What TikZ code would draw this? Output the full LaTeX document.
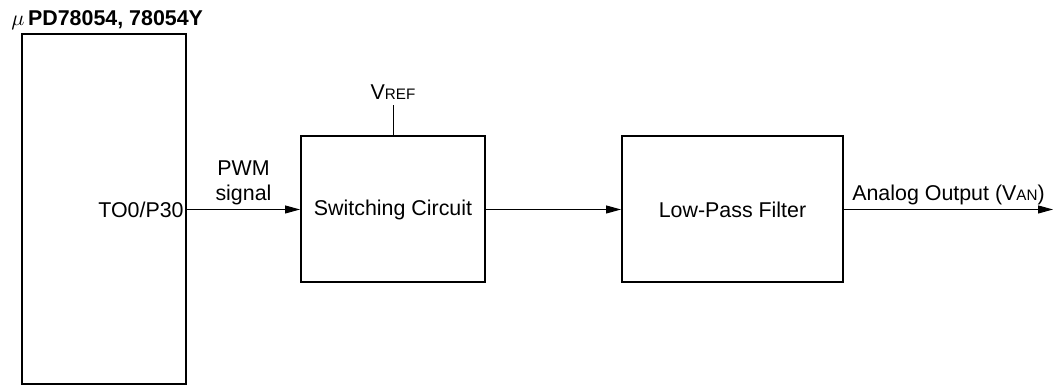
\documentclass[tikz,border=0pt]{standalone}
\usepackage{fontspec}
\setmainfont{Liberation Sans}
\usetikzlibrary{positioning, arrows.meta}
\newcommand{\sublabel}[1]{{\fontsize{7.6bp}{9bp}\selectfont #1}}

\begin{document}
\begin{tikzpicture}[x=0.5bp, y=-0.5bp, font=\fontsize{10.7bp}{12.5bp}\selectfont,
    blockbox/.style={draw, line width=1bp, minimum height=73bp, align=center, inner sep=0pt},
    signal/.style={-{Triangle[length=7.5bp, width=4bp]}, line width=0.5bp}]
    \useasboundingbox (0,0) rectangle (1054,385);
    \node[draw, line width=1bp, minimum width=82bp, minimum height=175bp, inner sep=0pt] (chip) at (104,209.5) {};
    \node[anchor=base west, inner sep=0pt] (title) at (11,26) {$\mu$\,\textbf{PD78054, 78054Y}};
    \node[anchor=east, inner sep=1.5bp] (pin) at (chip.east) {TO0/P30};
    \node[blockbox, minimum width=92bp, right=56.5bp of chip] (switch) {Switching Circuit};
    \node[blockbox, minimum width=110.5bp, right=67.5bp of switch] (filter) {Low-Pass Filter};
    \coordinate[above=15bp of switch.north] (vref);
    \coordinate (out) at (1053,209.5);
    \draw[line width=0.5bp] (switch.north) -- (vref)
      node[above, inner sep=2.5bp] {V\sublabel{REF}};
    \draw[signal] (chip.east) -- node[above, align=center, inner sep=2bp]{PWM\\signal} (switch.west);
    \draw[signal] (switch.east) -- (filter.west);
    \draw[signal] (filter.east) -- node[above, inner sep=2bp]{Analog Output (V\sublabel{AN})} (out);
  \end{tikzpicture}
\end{document}
